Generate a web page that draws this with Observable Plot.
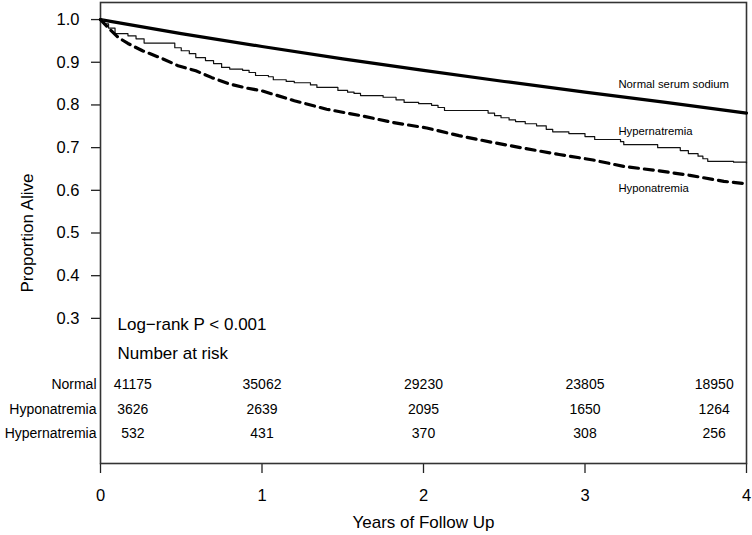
<!DOCTYPE html>
<html>
<head>
<meta charset="utf-8">
<script src="https://cdn.jsdelivr.net/npm/d3@7"></script>
<script src="https://cdn.jsdelivr.net/npm/@observablehq/plot@0.6"></script>
<style>
  body { margin: 0; background: white; }
  #chart svg { display: block; }
</style>
</head>
<body>
<div id="chart"></div>
<script>
// ---- Data ----
const normalTimes = [0, 0.5, 1, 1.5, 2, 2.5, 3, 3.5, 4];
const normalSurv  = [1, 0.967, 0.937, 0.908, 0.881, 0.855, 0.83, 0.806, 0.781];

const hypoTimes = [0, 0.05, 0.11, 0.17, 0.26, 0.38, 0.48, 0.59, 0.69, 0.79, 0.9, 1.0, 1.2, 1.4, 1.61, 1.81, 2.02, 2.22, 2.43, 2.63, 2.84, 3.05, 3.24, 3.45, 3.65, 3.86, 4];
const hypoSurv  = [1, 0.98, 0.958, 0.944, 0.927, 0.909, 0.892, 0.88, 0.864, 0.85, 0.84, 0.833, 0.81, 0.79, 0.775, 0.759, 0.746, 0.728, 0.712, 0.698, 0.684, 0.671, 0.656, 0.646, 0.635, 0.621, 0.615];

const hyperTimes = [0, 0.02, 0.05, 0.09, 0.17, 0.22, 0.27, 0.46, 0.5, 0.55, 0.59, 0.65, 0.7, 0.75, 0.8, 0.88, 0.92, 0.96, 1.04, 1.07, 1.15, 1.2, 1.3, 1.34, 1.47, 1.53, 1.57, 1.61, 1.75, 1.83, 1.88, 1.97, 2.05, 2.09, 2.13, 2.4, 2.44, 2.48, 2.53, 2.57, 2.63, 2.7, 2.76, 2.8, 2.9, 3.0, 3.06, 3.22, 3.24, 3.45, 3.59, 3.64, 3.7, 3.73, 3.76, 3.92, 4];
const hyperSurv  = [1, 0.99, 0.98, 0.967, 0.962, 0.955, 0.945, 0.934, 0.927, 0.92, 0.911, 0.904, 0.897, 0.888, 0.884, 0.881, 0.876, 0.869, 0.866, 0.859, 0.855, 0.852, 0.847, 0.841, 0.834, 0.83, 0.827, 0.822, 0.818, 0.812, 0.806, 0.803, 0.799, 0.794, 0.787, 0.781, 0.775, 0.77, 0.765, 0.761, 0.756, 0.751, 0.743, 0.737, 0.733, 0.726, 0.719, 0.714, 0.707, 0.7, 0.693, 0.686, 0.68, 0.674, 0.668, 0.666, 0.664];

const riskTimes = [0, 1, 2, 3, 4];
const riskGroups = ["Normal", "Hyponatremia", "Hypernatremia"];
const riskNormal = [41175, 35062, 29230, 23805, 18950];
const riskHypo   = [3626, 2639, 2095, 1650, 1264];
const riskHyper  = [532, 431, 370, 308, 256];

const xTicks = [0, 1, 2, 3, 4];
const yTicks = [0.3, 0.4, 0.5, 0.6, 0.7, 0.8, 0.9, 1.0];
const curveLabels = ["Normal serum sodium", "Hypernatremia", "Hyponatremia"];

// ---- Build tables ----
const toRows = (ts, vs) => ts.map((t, i) => ({t, s: vs[i]}));
const normalRows = toRows(normalTimes, normalSurv);
const hypoRows = toRows(hypoTimes, hypoSurv);
const hyperRows = toRows(hyperTimes, hyperSurv);

const riskRowY = {Normal: 0.1456, Hyponatremia: 0.087, Hypernatremia: 0.031};
const riskCounts = {Normal: riskNormal, Hyponatremia: riskHypo, Hypernatremia: riskHyper};
const riskTable = riskGroups.flatMap(g => riskTimes.map((t, i) => ({group: g, t, n: riskCounts[g][i]})));
const labelY = {"Normal serum sodium": 0.848, "Hypernatremia": 0.738, "Hyponatremia": 0.604};

const font = "'Liberation Sans', Arial, Helvetica, sans-serif";

const chart = Plot.plot({
  width: 752,
  height: 535,
  marginLeft: 100,
  marginRight: 6,
  marginTop: 2,
  marginBottom: 72,
  style: {fontFamily: font, fontSize: "16px", background: "white", color: "black"},
  x: {domain: [0, 4]},
  y: {domain: [-0.04, 1.04]},
  marks: [
    Plot.axisY({ticks: yTicks, tickSize: 9, tickPadding: 12, fontSize: 16.5, tickFormat: ".1f", label: null, stroke: "#222", strokeWidth: 1.3}),
    Plot.axisX({ticks: xTicks, tickSize: 10, tickPadding: 16, fontSize: 16.5, tickFormat: d => String(d), label: null, stroke: "#222", strokeWidth: 1.3}),
    Plot.frame({stroke: "#333", strokeWidth: 1.6}),
    Plot.line(normalRows, {x: "t", y: "s", stroke: "black", strokeWidth: 3.2}),
    Plot.line(hyperRows, {x: "t", y: "s", curve: "step-after", stroke: "#111", strokeWidth: 1.2}),
    Plot.line(hypoRows, {x: "t", y: "s", stroke: "black", strokeWidth: 3.2, strokeDasharray: "9,6"}),
    Plot.text(curveLabels, {x: 3.207, y: d => labelY[d], text: d => d, textAnchor: "start", fontSize: 11.3, fill: "black"}),
    Plot.text(["Log\u2212rank P < 0.001"], {x: 0, y: 0.286, dx: 17, textAnchor: "start", fontSize: 17, fill: "black"}),
    Plot.text(["Number at risk"], {x: 0, y: 0.218, dx: 17, textAnchor: "start", fontSize: 17, fill: "black"}),
    Plot.text(riskGroups, {x: 0, y: d => riskRowY[d], text: d => d, dx: -4, textAnchor: "end", fontSize: 14, fill: "black"}),
    Plot.text(riskTable, {x: d => Math.min(Math.max(d.t, 0.2), 3.8), y: d => riskRowY[d.group], text: d => String(d.n), textAnchor: "middle", fontSize: 14, fill: "black"}),
    Plot.text(["Proportion Alive"], {frameAnchor: "left", rotate: -90, dx: -73, textAnchor: "middle", lineAnchor: "middle", fontSize: 17, fill: "black"}),
    Plot.text(["Years of Follow Up"], {frameAnchor: "bottom", dy: 59, lineAnchor: "middle", fontSize: 17, fill: "black"})
  ]
});
document.getElementById("chart").appendChild(chart);
</script>
</body>
</html>
